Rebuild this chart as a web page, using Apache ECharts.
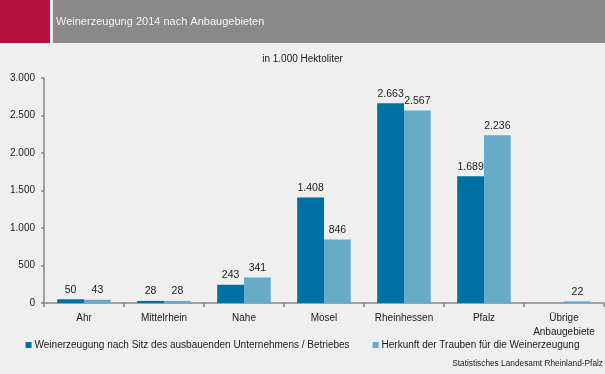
<!DOCTYPE html>
<html>
<head>
<meta charset="utf-8">
<script src="https://cdn.jsdelivr.net/npm/echarts@6/dist/echarts.min.js"></script>
<style>
html,body{margin:0;padding:0;background:#eeefee;}
#c{width:605px;height:374px;}
</style>
</head>
<body>
<div id="c"></div>
<script>
const categories = ['Ahr', 'Mittelrhein', 'Nahe', 'Mosel', 'Rheinhessen', 'Pfalz', 'Übrige\nAnbaugebiete'];
const seriesNames = ['Weinerzeugung nach Sitz des ausbauenden Unternehmens / Betriebes', 'Herkunft der Trauben für die Weinerzeugung'];
const sitzValues = [50, 28, 243, 1408, 2663, 1689, null];
const herkunftValues = [43, 28, 341, 846, 2567, 2236, 22];
const yTicks = [0, 500, 1000, 1500, 2000, 2500, 3000];
const titleText = 'Weinerzeugung 2014 nach Anbaugebieten';
const subtitleText = 'in 1.000 Hektoliter';
const sourceText = 'Statistisches Landesamt Rheinland-Pfalz';

function de(v) {
  return String(Math.round(v)).replace(/\B(?=(\d{3})+(?!\d))/g, '.');
}

const chart = echarts.init(document.getElementById('c'), null, {renderer: 'canvas'});
const font = 'Liberation Sans, Arial, sans-serif';
const labelStyle = {show: true, position: 'top', distance: 4, color: '#1a1a1a', fontSize: 10.5, fontFamily: font,
  formatter: p => de(p.value)};

chart.setOption({
  backgroundColor: '#eeefee',
  animation: false,
  graphic: [
    {type: 'rect', shape: {x: 0, y: 0, width: 50, height: 43}, style: {fill: '#b5123f'}},
    {type: 'rect', shape: {x: 53, y: 0, width: 552, height: 43}, style: {fill: '#898989'}},
    {type: 'text', left: 56, top: 16, style: {text: titleText, fill: '#f4f4f4', fontSize: 11, fontFamily: font}},
    {type: 'text', left: 'center', top: 54, style: {text: subtitleText, fill: '#1a1a1a', fontSize: 10, fontFamily: font}},
    {type: 'text', right: 2, top: 360, style: {text: sourceText, fill: '#1a1a1a', fontSize: 8.3, fontFamily: font}}
  ],
  grid: {left: 44, right: 1, top: 78, bottom: 71},
  legend: {
    data: seriesNames, top: 340, left: 'center', width: 600, padding: 0, icon: 'rect', itemWidth: 6, itemHeight: 6, itemGap: 23,
    textStyle: {fontSize: 10, color: '#1a1a1a', fontFamily: font, padding: [0, 0, 0, -2]}
  },
  xAxis: {
    type: 'category', data: categories,
    axisLine: {lineStyle: {color: '#868686', width: 1.5}},
    axisTick: {show: true, length: 4, alignWithLabel: false, lineStyle: {color: '#868686', width: 1.5}},
    axisLabel: {margin: 8, fontSize: 10, color: '#1a1a1a', fontFamily: font, lineHeight: 14, interval: 0}
  },
  yAxis: {
    type: 'value', min: yTicks[0], max: yTicks[yTicks.length - 1], interval: yTicks[1] - yTicks[0],
    axisLine: {show: true, lineStyle: {color: '#868686', width: 1.5}},
    axisTick: {show: true, length: 3, lineStyle: {color: '#868686', width: 1.5}},
    splitLine: {show: false},
    axisLabel: {margin: 9, fontSize: 10, color: '#1a1a1a', fontFamily: font, formatter: v => de(v)}
  },
  series: [
    {name: seriesNames[0], type: 'bar', data: sitzValues, barGap: '0%', barCategoryGap: '33%',
      itemStyle: {color: '#0070a2'}, label: labelStyle},
    {name: seriesNames[1], type: 'bar', data: herkunftValues,
      itemStyle: {color: '#67abc9'}, label: labelStyle}
  ]
});
</script>
</body>
</html>
